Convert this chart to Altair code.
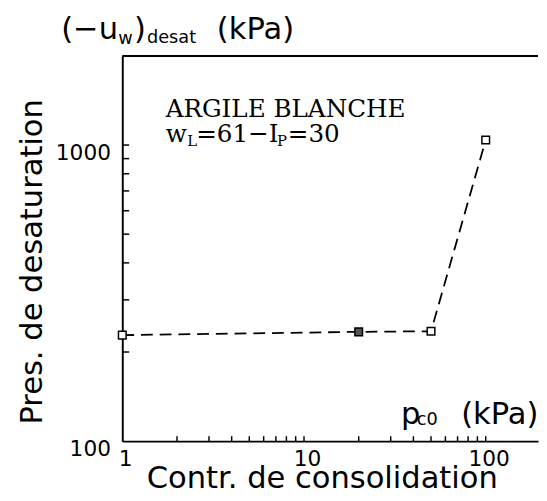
import altair as alt
import pandas as pd

# ---- data ----
pc0 = [1, 20, 50, 100]                 # Contr. de consolidation p_c0 (kPa)
u_desat = [228, 234, 235, 1040]        # (-u_w)_desat (kPa)

x_tick_values = [2, 3, 4, 5, 6, 7, 8, 9, 10, 20, 30, 40, 50, 60, 70, 80, 90, 100]
y_tick_values = [200, 300, 400, 500, 600, 700, 800, 900, 1000]
x_label_values = [1, 10, 100]
y_label_values = [100, 1000]

x_title = "Contr. de consolidation"
y_title = "Pres. de desaturation"
box_line1 = "ARGILE BLANCHE"

W, H = 422, 391
SANS = "DejaVu Sans"
SERIF = "DejaVu Serif"

df = pd.DataFrame({"x": pc0, "y": u_desat})
dummy = pd.DataFrame({"a": [0]})

xscale = alt.Scale(type="log", domain=[1, 194], nice=False)
yscale = alt.Scale(type="log", domain=[100, 2000], nice=False)

xaxis = alt.Axis(values=x_label_values, ticks=False, grid=False, title=None,
                 labelFont=SANS, labelFontSize=22, labelColor="black",
                 labelPadding=8, labelOffset=3, labelFlush=False, labelOverlap=False,
                 format="d", domainColor="black", domainWidth=2)
yaxis = alt.Axis(values=y_label_values, ticks=False, grid=False, title=None,
                 labelFont=SANS, labelFontSize=22, labelColor="black",
                 labelPadding=12, labelOffset=8, labelFlush=False, labelOverlap=False,
                 format="d", domainColor="black", domainWidth=2)

line = alt.Chart(df).mark_line(color="black", strokeWidth=1.8, strokeDash=[12, 7]).encode(
    x=alt.X("x:Q", scale=xscale, axis=xaxis),
    y=alt.Y("y:Q", scale=yscale, axis=yaxis),
    order="x:Q",
)
points = alt.Chart(df).mark_square(size=60, stroke="black", strokeWidth=1.5, opacity=1).encode(
    x=alt.X("x:Q", scale=xscale, axis=xaxis),
    y=alt.Y("y:Q", scale=yscale, axis=yaxis),
    fill=alt.condition(alt.datum.x == 20, alt.value("#555555"), alt.value("white")),
)

xticks = alt.Chart(pd.DataFrame({"x": x_tick_values})).mark_rule(color="black", strokeWidth=1.5).encode(
    x=alt.X("x:Q", scale=xscale, axis=xaxis),
    y=alt.value(H), y2=alt.value(H - 5),
)
yticks = alt.Chart(pd.DataFrame({"y": y_tick_values})).mark_rule(color="black", strokeWidth=1.5).encode(
    y=alt.Y("y:Q", scale=yscale, axis=yaxis),
    x=alt.value(0), x2=alt.value(7),
)
top_line = alt.Chart(dummy).mark_rule(color="black", strokeWidth=2).encode(
    x=alt.value(0), x2=alt.value(W), y=alt.value(0)
)


def txt(s, x, y, size, font=SANS, align="left", angle=0):
    return alt.Chart(dummy).mark_text(
        text=s, font=font, fontSize=size, align=align, baseline="alphabetic",
        angle=angle, color="black"
    ).encode(x=alt.value(x), y=alt.value(y))


texts = [
    # top-left unit title  (-u_w)_desat (kPa)
    txt("(\u2212u", -62, -17, 31),
    txt("w", -4, -12, 18),
    txt(")", 12, -17, 31),
    txt("desat", 25, -13, 18),
    txt("(kPa)", 96, -17, 31),
    # axis titles
    txt(y_title, -81, 209, 31, align="center", angle=270),
    txt(x_title, 203, 439, 31, align="center"),
    # p_c0 (kPa)
    txt("p", 283, 374, 31),
    txt("c0", 299, 375, 18),
    txt("(kPa)", 344, 374, 31),
    # annotation box
    txt(box_line1, 44, 62, 25, font=SERIF),
    txt("w", 44, 87, 25, font=SERIF),
    txt("L", 66, 91, 15, font=SERIF),
    txt("=61\u2212I", 75, 87, 25, font=SERIF),
    txt("P", 157, 91, 15, font=SERIF),
    txt("=30", 168, 87, 25, font=SERIF),
]

chart = alt.layer(line, points, xticks, yticks, top_line, *texts).properties(
    width=W, height=H,
    autosize=alt.AutoSizeParams(type="none"),
    padding={"left": 116, "top": 45, "right": 1, "bottom": 50},
).configure_view(stroke="transparent")

chart.save("out.html", embed_options={"renderer": "svg", "actions": False})
